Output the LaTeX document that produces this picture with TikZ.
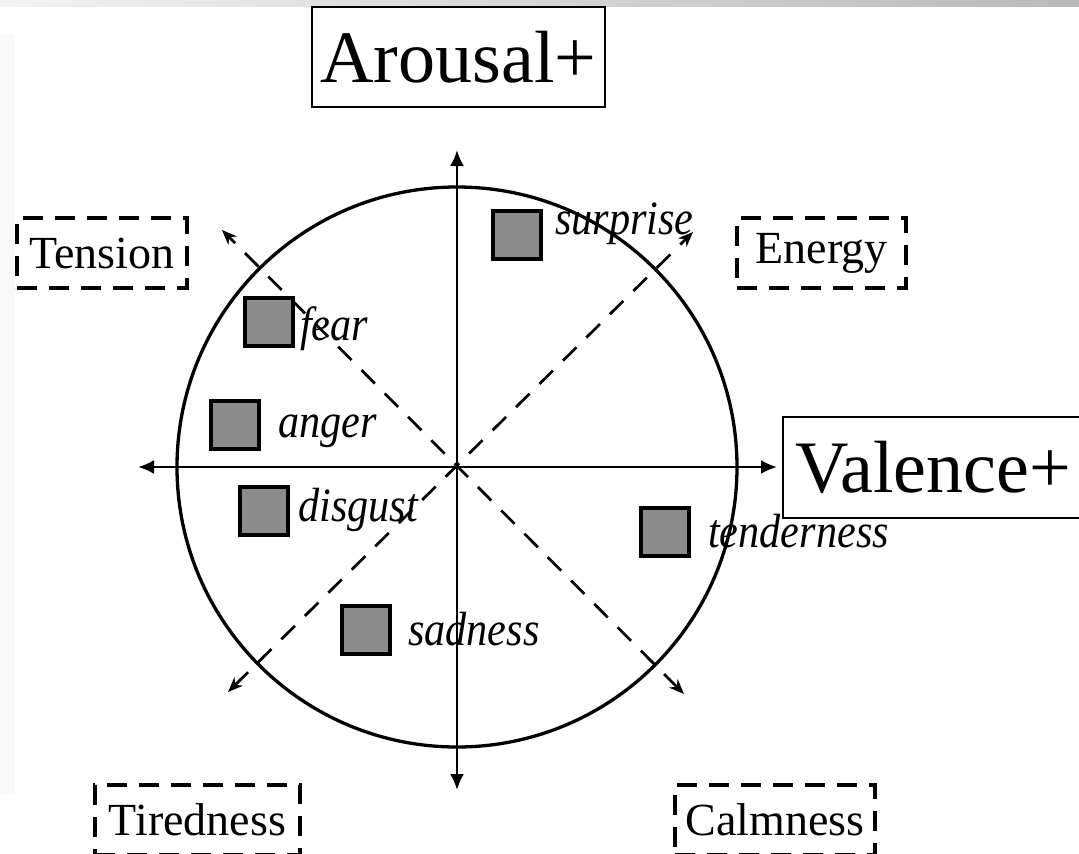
\documentclass[tikz,border=0pt]{standalone}
\usepackage{fontspec}
\setmainfont{Liberation Serif}
\newfontfamily\emofont{Liberation Serif}[FakeStretch=0.88]
\usetikzlibrary{arrows.meta}
\definecolor{emogray}{HTML}{8C8C8C}
\tikzset{
        axis_line/.style={line width=2.5pt, {Latex[length=16pt,width=14pt]}-{Latex[length=16pt,width=14pt]}},
        diag_line/.style={line width=2.7pt, dash pattern=on 19pt off 14pt,
                          {Stealth[length=15pt,width=12pt]}-{Stealth[length=15pt,width=12pt]}},
        ring/.style={line width=3.3pt},
        axis_box/.style={draw, line width=2pt, inner sep=0pt, font=\fontsize{74}{80}\selectfont},
        mood_box/.style={draw, line width=3.2pt, dash pattern=on 20pt off 12pt, inner sep=0pt,
                         minimum height=70pt, font=\fontsize{46}{50}\selectfont},
        emo_sq/.style={draw, fill=emogray, line width=3.2pt, minimum size=48pt, inner sep=0pt},
        emo_lab/.style={anchor=base west, inner sep=0pt, font=\fontsize{48}{52}\selectfont\emofont\itshape}
    }

\begin{document}
\begin{tikzpicture}[x=1pt, y=-1pt]
    \useasboundingbox (0,0) rectangle (1079,854);
    \clip (0,0) rectangle (1079,854);
    % page edges of the screenshot
    \shade[left color=gray!10, right color=gray!55] (0,0) rectangle (1079,6);
    \fill[gray!5] (0,35) rectangle (15,795);

    \coordinate (O) at (457,467);
    \draw[ring] (O) circle [radius=280pt];

    % axes
    \coordinate (ax_w) at (138,467);
    \coordinate (ax_e) at (777,467);
    \coordinate (ax_n) at (457,150);
    \coordinate (ax_s) at (457,790);
    \draw[axis_line] (ax_w) -- (ax_e);
    \draw[axis_line] (ax_s) -- (ax_n);

    % diagonals
    \coordinate (dg_nw) at (222,230);
    \coordinate (dg_se) at (684,694);
    \coordinate (dg_ne) at (693,232);
    \coordinate (dg_sw) at (228,692);
    \draw[diag_line] (dg_se) -- (dg_nw);
    \draw[diag_line] (dg_sw) -- (dg_ne);

    \node[axis_box, minimum width=293pt, minimum height=100pt] (arousal) at (458.5,57) {Arousal+};
    \node[axis_box, anchor=west, minimum width=300pt, minimum height=101pt] (valence) at (782,467.5) {Valence+};

    \node[mood_box, minimum width=170pt] (tension) at (102,253) {Tension};
    \node[mood_box, minimum width=169pt] (energy) at (821.5,253) {Energy};
    \node[mood_box, minimum width=205pt] (tiredness) at (197.5,820) {Tiredness};
    \node[mood_box, minimum width=200pt] (calmness) at (775,820) {Calmness};

    \node[emo_sq] (surprise) at (517,235) {};
    \node[emo_sq] (fear) at (269,322) {};
    \node[emo_sq] (anger) at (235,425) {};
    \node[emo_sq] (disgust) at (264,511) {};
    \node[emo_sq] (tenderness) at (665,532) {};
    \node[emo_sq] (sadness) at (366,630) {};

    \node[emo_lab] (surprise_lab) at (555,234) {surprise};
    \node[emo_lab] (fear_lab) at (300,340) {fear};
    \node[emo_lab] (anger_lab) at (278,437) {anger};
    \node[emo_lab] (disgust_lab) at (298,521) {disgust};
    \node[emo_lab] (tenderness_lab) at (708,547) {tenderness};
    \node[emo_lab] (sadness_lab) at (408,645) {sadness};
\end{tikzpicture}
\end{document}
